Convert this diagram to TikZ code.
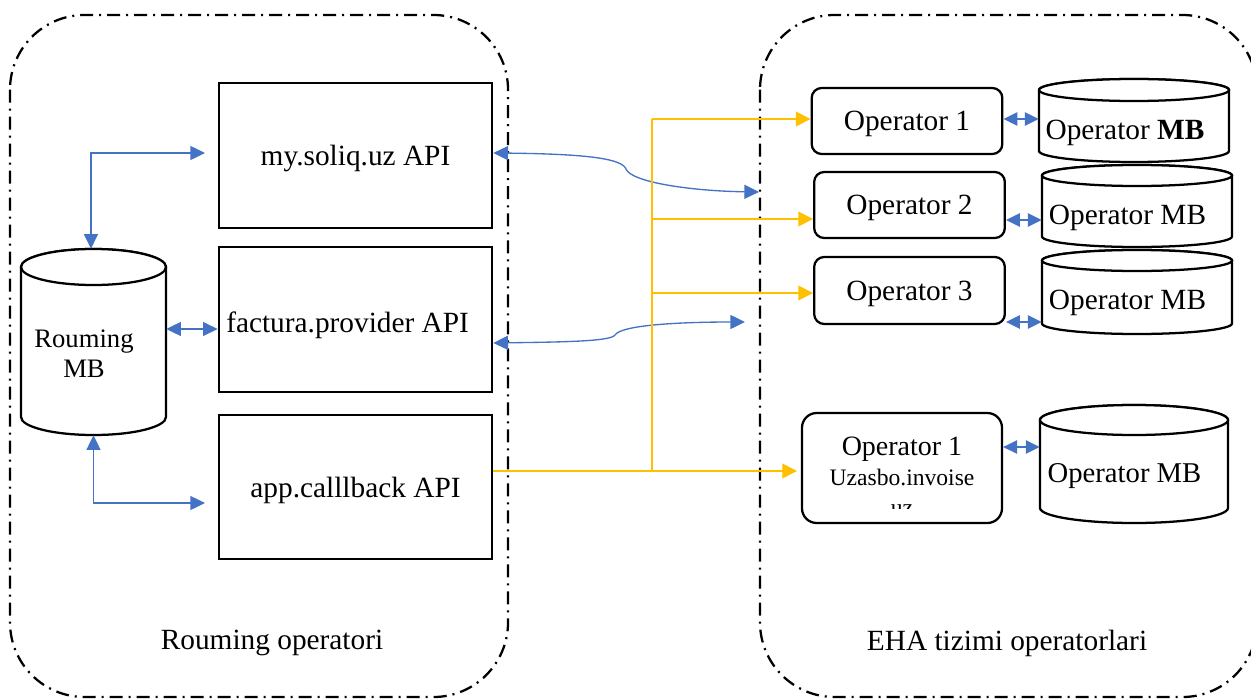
\documentclass[tikz,border=0pt]{standalone}
\usepackage{fontspec}
\setmainfont{Liberation Serif}
\usetikzlibrary{arrows.meta}
\definecolor{bl}{HTML}{4472C4}
\definecolor{yl}{HTML}{FFC000}
\tikzset{
  container/.style={draw, line width=1.7pt, rounded corners=56pt, dash pattern=on 9.75pt off 4.5pt on 1.5pt off 4.5pt},
  apibox/.style={draw, line width=2pt, inner sep=0pt, minimum width=204.75pt, minimum height=108.75pt, text depth=-1pt, font=\fontsize{22}{26}\selectfont},
  opbox/.style={draw, line width=1.7pt, rounded corners=7.5pt, inner sep=0pt, minimum width=143pt, minimum height=49.5pt, text depth=0pt, font=\fontsize{22}{26}\selectfont},
  cylline/.style={draw=black, fill=white, line width=1.7pt},
  txt/.style={inner sep=0pt, font=\fontsize{22}{26}\selectfont},
  bthin/.style={draw=bl, line width=1pt, {Triangle[length=11pt,width=10.5pt]}-{Triangle[length=11pt,width=10.5pt]}},
  bdbl/.style={draw=bl, line width=1.3pt, {Triangle[length=10.5pt,width=10pt]}-{Triangle[length=10.5pt,width=10pt]}},
  yline/.style={draw=yl, line width=1.1pt},
  yarrow/.style={draw=yl, line width=1.1pt, -{Triangle[length=11pt,width=11pt]}},
}
\newcommand\drawcyl[6]{%
  \pgfmathsetmacro\cylcx{(#2+#3)/2}%
  \pgfmathsetmacro\cylcy{(#4+#5)/2}%
  \pgfmathsetmacro\cylrx{(#3-#2)*0.375}%
  \pgfmathsetmacro\cylry{#6*0.75}%
  \pgfmathsetmacro\cylya{#4+#6}%
  \pgfmathsetmacro\cylyb{#5-#6}%
  \pgfmathsetmacro\cylw{(#3-#2)*0.75}%
  \pgfmathsetmacro\cylh{(#5-#4)*0.75}%
  \filldraw[cylline] (#2,\cylya) -- (#2,\cylyb) arc[start angle=180,end angle=360,x radius=\cylrx pt,y radius=\cylry pt] -- (#3,\cylya) arc[start angle=0,end angle=180,x radius=\cylrx pt,y radius=\cylry pt] -- cycle;
  \draw[cylline] (\cylcx,\cylya) ellipse[x radius=\cylrx pt,y radius=\cylry pt];
  \node[inner sep=0pt,minimum width=\cylw pt,minimum height=\cylh pt] (#1) at (\cylcx,\cylcy) {};
}
\begin{document}
\begin{tikzpicture}[x=0.75pt,y=-0.75pt]
\useasboundingbox (0,0) rectangle (1251,699);
\fill[white] (0,0) rectangle (1251,699);
% containers
\draw[container] (10,15) rectangle (508,697);
\draw[container] (760,15) rectangle (1257,697);
\node[txt] (lblL) at (272,643) {Rouming operatori};
\node[txt] (lblR) at (1007,643) {EHA tizimi operatorlari};
% API boxes
\node[apibox] (soliq) at (355.5,155.5) {my.soliq.uz API};
\node[apibox] (factura) at (355.5,319.5) {};
\node[txt, anchor=west] (facturatxt) at (226,325) {factura.provider API};
\node[apibox, minimum height=108pt] (callback) at (355.5,487) {app.calllback API};
% Rouming MB
\drawcyl{rmb}{21}{166}{249}{435}{18}
\node[txt, font=\fontsize{20}{22.5}\selectfont, align=center] (rmbtxt) at (84,354) {Rouming\\MB};
% operators
\node[opbox] (op1) at (907,121) {Operator 1};
\node[opbox] (op2) at (909.5,205) {Operator 2};
\node[opbox, minimum height=50.25pt] (op3) at (909.5,290.5) {Operator 3};
\node[opbox, rounded corners=11pt, minimum width=150pt, minimum height=82.5pt] (op4) at (902,468) {};
\begin{scope}
\clip (802,413) rectangle (1002,508);
\node[txt, align=center, font=\fontsize{21}{22.5}\selectfont, anchor=north] (op4txt) at (902,437) {Operator 1\\{\fontsize{17.7}{22.5}\selectfont Uzasbo.invoise}\\{\fontsize{17.7}{22.5}\selectfont uz}};
\end{scope}
% operator MB cylinders
\drawcyl{c1}{1039}{1229}{79}{162}{11}
\drawcyl{c2}{1042}{1232}{165}{247}{10.5}
\drawcyl{c3}{1042}{1232}{250}{334}{10.5}
\drawcyl{c4}{1040}{1228}{405}{523}{15}
\node[txt] (c1txt) at (1125,133) {Operator \textbf{MB}};
\node[txt] (c2txt) at (1127.5,218) {Operator MB};
\node[txt] (c3txt) at (1127.5,303) {Operator MB};
\node[txt, font=\fontsize{21.5}{26}\selectfont] (c4txt) at (1124.5,476) {Operator MB};
% helper coordinates
\coordinate (soliqL) at (205,153);
\coordinate (cbL) at (205,503);
\coordinate (r329) at (0,329);
\coordinate (cA) at (759,192);
\coordinate (cB) at (745,322);
\coordinate (ytop) at (652,119);
\coordinate (yb2) at (652,219);
\coordinate (yb3) at (652,293);
\coordinate (ybot) at (652,471);
\coordinate (y4end) at (797,471);
\coordinate (a2) at (0,220);
\coordinate (a3) at (0,322);
\coordinate (a4) at (0,447);
% blue left connectors
\draw[bthin] ([xshift=-1.9pt]rmb.north) |- (soliqL);
\draw[bthin] (rmb.east |- r329) -- (factura.west |- r329);
\draw[bthin] (rmb.south) |- (cbL);
% blue curved connectors
\draw[bthin] ([yshift=1.9pt]soliq.east) .. controls (590,154) and (622,159) .. (626,169) .. controls (631,182) and (690,191) .. (cA);
\draw[bthin] ([yshift=-17.6pt]factura.east) .. controls (570,342) and (611,341) .. (615,335) .. controls (621,325) and (680,322) .. (cB);
% yellow connectors
\draw[yline] (callback.east |- ybot) -- (ybot) -- (ytop);
\draw[yarrow] (ytop) -- (op1.west |- ytop);
\draw[yarrow] (yb2) -- (op2.west |- yb2);
\draw[yarrow] (yb3) -- (op3.west |- yb3);
\draw[yarrow] (ybot) -- (y4end);
% blue double arrows
\draw[bdbl] ([yshift=1.5pt]op1.east) -- ([yshift=1.5pt]op1.east -| c1.west);
\draw[bdbl] (op2.east |- a2) -- (c2.west |- a2);
\draw[bdbl] (op3.east |- a3) -- (c3.west |- a3);
\draw[bdbl] (op4.east |- a4) -- (c4.west |- a4);
\end{tikzpicture}
\end{document}
